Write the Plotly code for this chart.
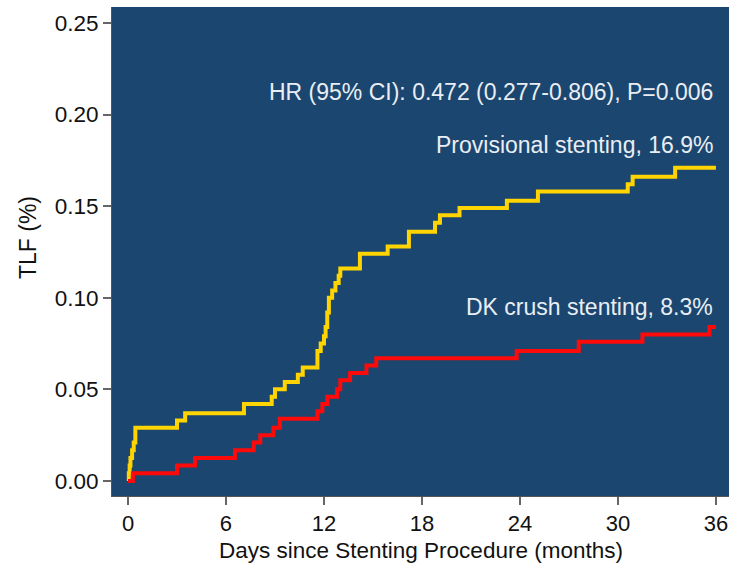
import plotly.graph_objects as go

# Provisional stenting (yellow) - Kaplan-Meier cumulative TLF
prov_t = [0, 0.05, 0.1, 0.15, 0.25, 0.35, 0.45, 3.0, 3.5, 7.1, 8.8, 9.0, 9.6, 10.4, 10.7,
          11.6, 11.8, 12.0, 12.1, 12.2, 12.3, 12.5, 12.7, 12.9, 13.0, 14.2, 15.9, 17.2,
          18.8, 19.1, 20.3, 23.2, 25.1, 30.6, 30.9, 33.5, 36.0]
prov_y = [0, 0.0042, 0.0084, 0.0126, 0.0168, 0.021, 0.029, 0.033, 0.037, 0.042, 0.046, 0.050,
          0.054, 0.058, 0.062, 0.071, 0.075, 0.079, 0.084, 0.092, 0.100, 0.104, 0.108, 0.112,
          0.116, 0.124, 0.128, 0.136, 0.141, 0.145, 0.149, 0.153, 0.158, 0.162, 0.166, 0.171, 0.171]

# DK crush stenting (red)
dk_t = [0, 0.3, 3.0, 4.1, 6.55, 7.7, 8.1, 8.9, 9.3, 11.6, 11.9, 12.2, 12.8, 13.0, 13.6,
        14.6, 15.2, 23.8, 27.6, 31.5, 35.6, 36.0]
dk_y = [0, 0.0042, 0.0084, 0.0126, 0.0168, 0.021, 0.025, 0.029, 0.034, 0.038, 0.042, 0.046,
        0.050, 0.055, 0.059, 0.063, 0.067, 0.071, 0.076, 0.080, 0.084, 0.084]

x_ticks = [0, 6, 12, 18, 24, 30, 36]
y_ticks = [0.00, 0.05, 0.10, 0.15, 0.20, 0.25]

hr_text = "HR (95% CI): 0.472 (0.277-0.806), P=0.006"
prov_label = "Provisional stenting, 16.9%"
dk_label = "DK crush stenting, 8.3%"
x_title = "Days since Stenting Procedure (months)"
y_title = "TLF (%)"

FONT = "Liberation Sans, Arial, Helvetica, sans-serif"
TXT = "#e9eef4"

fig = go.Figure()
fig.add_trace(go.Scatter(x=prov_t, y=prov_y, mode="lines", line_shape="hv",
                         line=dict(color="#ffd400", width=4), showlegend=False))
fig.add_trace(go.Scatter(x=dk_t, y=dk_y, mode="lines", line_shape="hv",
                         line=dict(color="#ff0a0a", width=4), showlegend=False))

fig.add_annotation(x=35.95, y=0.2123, xref="x", yref="y", text=hr_text, showarrow=False,
                   xanchor="right", yanchor="middle", font=dict(family=FONT, size=23, color=TXT))
fig.add_annotation(x=35.95, y=0.1834, xref="x", yref="y", text=prov_label, showarrow=False,
                   xanchor="right", yanchor="middle", font=dict(family=FONT, size=23, color=TXT))
fig.add_annotation(x=35.95, y=0.095, xref="x", yref="y", text=dk_label, showarrow=False,
                   xanchor="right", yanchor="middle", font=dict(family=FONT, size=23, color=TXT))

fig.add_annotation(x=0.5, y=-0.112, xref="paper", yref="paper", text=x_title, showarrow=False,
                   xanchor="center", yanchor="middle", font=dict(family=FONT, size=22.5, color="#111"))
fig.add_annotation(x=(28 - 112) / 617.0, y=0.1326, xref="x domain", yref="y", text=y_title,
                   showarrow=False, textangle=-90, xanchor="center", yanchor="middle",
                   font=dict(family=FONT, size=23, color="#111"))

fig.update_layout(
    width=733, height=564,
    margin=dict(l=112, r=4, t=7, b=68),
    paper_bgcolor="white",
    plot_bgcolor="#1b466f",
    font=dict(family=FONT, size=23, color="#111"),
    xaxis=dict(range=[-0.98, 36.8], tickvals=x_ticks, ticktext=[str(v) for v in x_ticks],
               ticks="outside", ticklen=8, tickwidth=1.5, tickcolor="#666",
               showgrid=False, zeroline=False, showline=True, linecolor="#555", linewidth=1,
               tickfont=dict(family=FONT, size=22, color="#111")),
    yaxis=dict(range=[-0.0082, 0.2587], tickvals=y_ticks, ticktext=[f"{v:.2f}" for v in y_ticks],
               ticks="outside", ticklen=8, tickwidth=1.5, tickcolor="#666",
               showgrid=False, zeroline=False, showline=True, linecolor="#555", linewidth=1,
               tickfont=dict(family=FONT, size=22.5, color="#111")),
)

fig.write_html("out.html")
